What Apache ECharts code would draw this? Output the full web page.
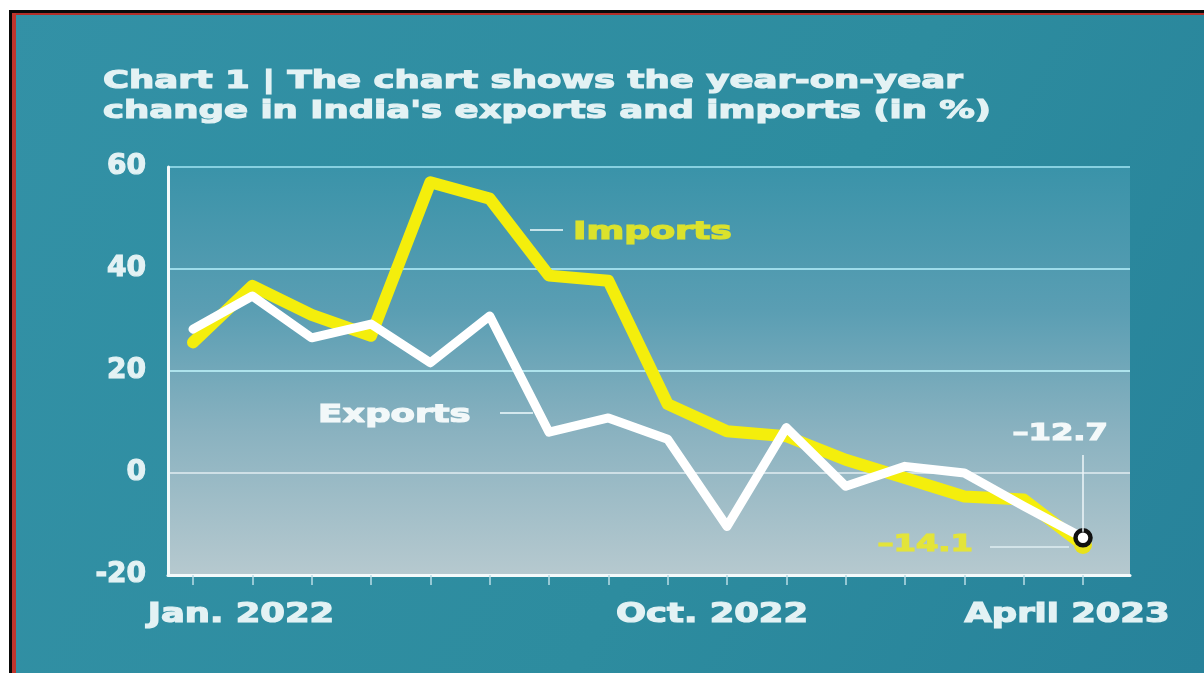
<!DOCTYPE html>
<html><head><meta charset="utf-8">
<script src="https://cdn.jsdelivr.net/npm/echarts@6/dist/echarts.min.js"></script>
<style>html,body{margin:0;padding:0;background:#fff;overflow:hidden}#c{width:1204px;height:673px}</style>
</head><body><div id="c"></div>
<script>
// ---- data ----
const months = ['Jan. 2022','Feb. 2022','March 2022','April 2022','May 2022','June 2022','July 2022','Aug. 2022','Sept. 2022','Oct. 2022','Nov. 2022','Dec. 2022','Jan. 2023','Feb. 2023','March 2023','April 2023'];
const exportsPct = [28.2, 34.7, 26.5, 29.2, 21.6, 30.8, 8.0, 10.8, 6.6, -10.5, 8.9, -2.6, 1.3, 0.0, -6.5, -12.7];
const importsPct = [25.6, 36.7, 31.0, 26.9, 57.0, 53.8, 38.7, 37.7, 13.5, 8.2, 7.2, 2.6, -1.0, -4.6, -5.2, -14.1];
const yTicks = [-20, 0, 20, 40, 60];
const xLabelIdx = [0, 9, 15];
const titleLines = ['Chart 1 | The chart shows the year-on-year', "change in India's exports and imports (in %)"];
const seriesNames = ['Exports', 'Imports'];

const FONT = '"DejaVu Sans", sans-serif';
const TXT = '#e3f2f4';
const YEL = '#f4ee0c';
const last = months.length - 1;
const fmt = v => (v < 0 ? '\u2013' : '') + Math.abs(v).toFixed(1);

const chart = echarts.init(document.getElementById('c'), null, {renderer: 'canvas'});

const option = {
  animation: false,
  backgroundColor: {type: 'linear', x: 0, y: 0, x2: 1, y2: 1, colorStops: [
    {offset: 0, color: '#3391a6'}, {offset: 0.6, color: '#2d8c9f'}, {offset: 1, color: '#27829a'}]},
  grid: [
    {left: 168, right: 74, top: 167, bottom: 98, show: true, borderWidth: 0,
     backgroundColor: {type: 'linear', x: 0, y: 0, x2: 0, y2: 1, colorStops: [
       {offset: 0, color: '#3a93a9'}, {offset: 0.35, color: '#5a9eb3'}, {offset: 0.65, color: '#8ab2c0'}, {offset: 1, color: '#b6c9cf'}]}},
    {left: 193, right: 121, top: 167, bottom: 98}
  ],
  xAxis: [
    {gridIndex: 0, type: 'value', min: 0, max: 1, axisLabel: {show: false}, axisTick: {show: false}, splitLine: {show: false},
     axisLine: {show: true, onZero: false, lineStyle: {color: '#f4fafb', width: 3}}},
    {gridIndex: 1, type: 'category', data: months, boundaryGap: false, axisLabel: {show: false},
     axisLine: {show: false, onZero: false},
     axisTick: {show: true, interval: 0, length: 10, lineStyle: {color: '#b9dde6', width: 1.5}}}
  ],
  yAxis: [
    {gridIndex: 0, type: 'value', min: yTicks[0], max: yTicks[yTicks.length - 1], interval: yTicks[1] - yTicks[0],
     axisLine: {show: true, lineStyle: {color: '#f4fafb', width: 3}}, axisTick: {show: false},
     axisLabel: {color: TXT, fontFamily: FONT, fontWeight: 'bold', fontSize: 28, margin: 22,
                 textBorderColor: TXT, textBorderWidth: 1.2},
     splitLine: {show: true, lineStyle: {width: 2, color: ['rgba(255,255,255,0)', 'rgba(225,238,241,0.75)', '#aee3ec', '#9edcea', '#86d0e0']}}},
    {gridIndex: 1, type: 'value', min: yTicks[0], max: yTicks[yTicks.length - 1], show: false}
  ],
  series: [
    {name: seriesNames[1], type: 'line', xAxisIndex: 1, yAxisIndex: 1, data: importsPct, showSymbol: false, symbol: 'none',
     lineStyle: {color: YEL, width: 12, join: 'round', cap: 'round'}, z: 3},
    {name: seriesNames[0], type: 'line', xAxisIndex: 1, yAxisIndex: 1, data: exportsPct, showSymbol: false, symbol: 'none',
     lineStyle: {color: '#ffffff', width: 9, join: 'round', cap: 'round'}, z: 4},
    {type: 'scatter', xAxisIndex: 1, yAxisIndex: 1, data: [[months[last], importsPct[last]]], symbolSize: 18,
     itemStyle: {color: '#e8e21c', opacity: 1}, z: 5},
    {type: 'scatter', xAxisIndex: 1, yAxisIndex: 1, data: [[months[last], exportsPct[last]]], symbolSize: 15,
     itemStyle: {color: '#ffffff', borderColor: '#111', borderWidth: 4.5, opacity: 1}, z: 6}
  ]
};
chart.setOption(option);

function txt(text, x, y, size, color, align, sx) {
  return {type: 'text', x: x, y: y, scaleX: sx, z: 100,
    style: {text: text, fill: color, stroke: color, lineWidth: 1.2, font: 'bold ' + size + 'px ' + FONT, align: align, verticalAlign: 'middle'}};
}
const lx = i => chart.convertToPixel({xAxisIndex: 1}, months[i]);
const ly = v => chart.convertToPixel({yAxisIndex: 1}, v);
const labelShift = {0: 48, 9: -15, 15: -16};

const g = [
  // page frame
  {type: 'rect', shape: {x: 0, y: 0, width: 1204, height: 10}, style: {fill: '#ffffff'}, z: 200},
  {type: 'rect', shape: {x: 0, y: 0, width: 9, height: 673}, style: {fill: '#ffffff'}, z: 200},
  {type: 'rect', shape: {x: 9, y: 10, width: 1195, height: 3}, style: {fill: '#0a0a0a'}, z: 201},
  {type: 'rect', shape: {x: 9, y: 13, width: 1195, height: 2}, style: {fill: '#b2302a'}, z: 201},
  {type: 'rect', shape: {x: 9, y: 10, width: 3, height: 663}, style: {fill: '#0a0a0a'}, z: 201},
  {type: 'rect', shape: {x: 12, y: 13, width: 4, height: 660}, style: {fill: '#c0352c'}, z: 201},
  // title
  {type: 'text', x: 103, y: 66, scaleX: 1.42, z: 100,
   style: {text: titleLines.join('\n'), fill: TXT, stroke: TXT, lineWidth: 1.2, font: 'bold 25px ' + FONT, lineHeight: 30, align: 'left', verticalAlign: 'top'}},
  // series labels + leaders
  {type: 'line', shape: {x1: 530, y1: 230, x2: 563, y2: 230}, style: {stroke: '#c6e3ea', lineWidth: 2}, z: 50},
  txt(seriesNames[1], 573, 232, 25, '#dbe22c', 'left', 1.45),
  {type: 'line', shape: {x1: 500, y1: 413, x2: 533, y2: 413}, style: {stroke: '#d4e8ee', lineWidth: 2}, z: 50},
  txt(seriesNames[0], 318, 415, 25, '#f2f8f9', 'left', 1.42),
  // end-value annotations
  {type: 'line', shape: {x1: lx(last), y1: 455, x2: lx(last), y2: ly(exportsPct[last]) - 6}, style: {stroke: '#eef6f8', lineWidth: 1.5}, z: 50},
  txt(fmt(exportsPct[last]), 1108, 434, 23, '#f4f9fa', 'right', 1.4),
  {type: 'line', shape: {x1: 990, y1: ly(importsPct[last]) + 2, x2: lx(last) - 14, y2: ly(importsPct[last]) + 2}, style: {stroke: '#dfeef2', lineWidth: 1.5}, z: 50},
  txt(fmt(importsPct[last]), 973, 545, 23, '#e3e43a', 'right', 1.4)
];
xLabelIdx.forEach(i => g.push(txt(months[i], lx(i) + labelShift[i], 615, 26, TXT, 'center', 1.36)));
chart.setOption({graphic: g});
</script></body></html>
